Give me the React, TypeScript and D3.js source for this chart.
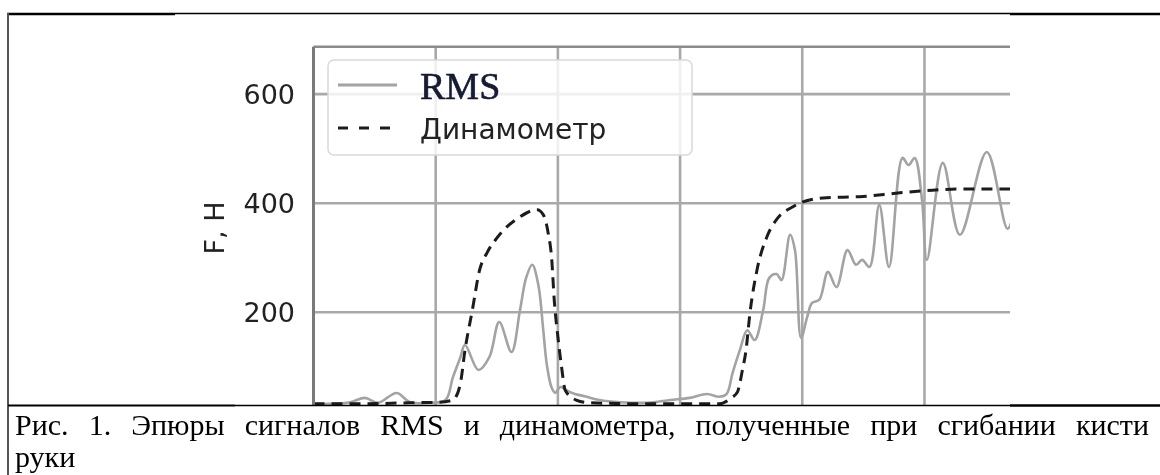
import React, { useEffect, useRef } from 'react'
import * as d3 from 'd3'

// time in grid units (one vertical grid line per unit), force in N
const rmsTime = [
  0.0, 0.13, 0.3, 0.42, 0.53, 0.68, 0.79, 0.95, 1.08, 1.14, 1.2, 1.24, 1.35, 1.44, 1.52, 1.62,
  1.69, 1.74, 1.79, 1.84, 1.88, 1.91, 1.95, 1.98, 2.02, 2.07, 2.14, 2.22, 2.34, 2.51, 2.73, 2.92,
  3.08, 3.22, 3.32, 3.38, 3.43, 3.49, 3.55, 3.61, 3.68, 3.73, 3.79, 3.83, 3.9, 3.94, 3.99, 4.04,
  4.08, 4.14, 4.21, 4.28, 4.37, 4.44, 4.49, 4.55, 4.63, 4.71, 4.82, 4.87, 4.92, 4.98, 5.02, 5.15,
  5.29, 5.51, 5.68, 5.74,
]
const rmsForce = [
  32, 32, 35, 43, 34, 52, 35, 34, 39, 80, 116, 140, 94, 118, 182, 127,
  204, 263, 287, 250, 168, 103, 61, 52, 63, 57, 50, 46, 39, 35, 34, 39,
  43, 50, 45, 50, 89, 131, 167, 149, 204, 263, 270, 259, 342, 314, 153, 191,
  217, 223, 274, 246, 314, 287, 296, 283, 397, 283, 483, 470, 483, 406, 296, 474,
  342, 494, 353, 387,
]

const dynTime = [
  0.0, 0.38, 0.79, 1.03, 1.14, 1.2, 1.24, 1.3, 1.36, 1.42, 1.5, 1.69, 1.83, 1.88, 1.92, 1.95,
  1.97, 2.0, 2.03, 2.06, 2.15, 2.26, 2.75, 3.32, 3.42, 3.47, 3.51, 3.54, 3.57, 3.63, 3.71, 3.8,
  3.92, 4.0, 4.2, 4.47, 4.8, 5.02, 5.29, 5.75,
]
const dynForce = [
  32, 32, 34, 35, 39, 67, 131, 204, 278, 309, 336, 375, 388, 379, 346, 296,
  223, 155, 100, 57, 39, 34, 32, 32, 43, 54, 94, 131, 195, 278, 338, 373,
  393, 402, 410, 412, 419, 423, 426, 426,
]

const xTicks = [1, 2, 3, 4, 5]
const yTicks = [200, 400, 600]
const legendLabels = ['RMS', 'Динамометр']
const yLabel = 'F, H'
const captionLine1 = 'Рис. 1. Эпюры сигналов RMS и динамометра, полученные при сгибании кисти'
const captionLine2 = 'руки'

const W = 1160
const H = 475
const plotLeft = 313.5
const plotRight = 1010
const plotTop = 46.7
const plotBottom = 405

export default function App() {
  const captionRef = useRef<SVGTextElement>(null)

  // justify first caption line like the document text
  useEffect(() => {
    const t = captionRef.current
    if (!t) return
    t.setAttribute('word-spacing', '0')
    const w = t.getComputedTextLength()
    const spaces = captionLine1.split(' ').length - 1
    t.setAttribute('word-spacing', String(Math.max(0, (1149 - 15 - w) / spaces)))
  }, [])

  const x = d3.scaleLinear().domain([0, 5.7]).range([plotLeft, plotRight])
  const y = d3.scaleLinear().domain([0, 687]).range([421.3, plotTop])

  const rmsLine = d3.line<number>()
    .x((_, i) => x(rmsTime[i]))
    .y(d => y(d))
    .curve(d3.curveCatmullRom.alpha(0.5))
  const dynLine = d3.line<number>()
    .x((_, i) => x(dynTime[i]))
    .y(d => y(d))
    .curve(d3.curveMonotoneX)

  const sans = 'DejaVu Sans, sans-serif'
  const serif = 'Liberation Serif, Times New Roman, serif'

  return (
    <div style={{ position: 'absolute', left: 0, top: 0 }}>
      <svg width={W} height={H} style={{ display: 'block', background: '#fff' }}>
        <defs>
          <clipPath id="plot-area">
            <rect x={plotLeft} y={plotTop} width={plotRight - plotLeft} height={plotBottom - plotTop} />
          </clipPath>
          <filter id="soft" x="-5%" y="-5%" width="110%" height="110%">
            <feGaussianBlur stdDeviation="0.6" />
          </filter>
        </defs>

        <g filter="url(#soft)">
          {/* grid */}
          <g clipPath="url(#plot-area)" stroke="#a9a9a9" strokeWidth={2.6}>
            {xTicks.map(t => (
              <line key={'gx' + t} x1={x(t)} x2={x(t)} y1={plotTop} y2={plotBottom} />
            ))}
            {yTicks.map(t => (
              <line key={'gy' + t} x1={plotLeft} x2={plotRight} y1={y(t)} y2={y(t)} />
            ))}
          </g>

          {/* curves */}
          <g clipPath="url(#plot-area)" fill="none" strokeLinejoin="round">
            <path d={rmsLine(rmsForce) || ''} stroke="#a3a3a3" strokeWidth={2.6} />
            <path d={dynLine(dynForce) || ''} stroke="#1c1c1c" strokeWidth={3} strokeDasharray="11,7" />
          </g>

          {/* spines */}
          <line x1={plotLeft} x2={plotRight} y1={plotTop} y2={plotTop} stroke="#8c8c8c" strokeWidth={2.4} />
          <line x1={plotLeft} x2={plotLeft} y1={plotTop} y2={plotBottom} stroke="#7a7a7a" strokeWidth={3} />

          {/* legend */}
          <rect x={328} y={60} width={364} height={95} rx={6} fill="#fff" fillOpacity={0.82}
            stroke="#d9d9d9" strokeWidth={1.5} />
          <line x1={338} x2={397} y1={85} y2={85} stroke="#a3a3a3" strokeWidth={2.8} />
          <line x1={338} x2={397} y1={128} y2={128} stroke="#1c1c1c" strokeWidth={3} strokeDasharray="10,11" />
          <text x={420} y={99} fontFamily={serif} fontSize={38} fill="#141a33"
            stroke="#141a33" strokeWidth={0.6}>{legendLabels[0]}</text>
          <text x={420} y={139} fontFamily={sans} fontSize={28} fill="#222">{legendLabels[1]}</text>

          {/* y tick labels */}
          {yTicks.map(t => (
            <text key={'ty' + t} x={295} y={y(t)} dy="0.36em" textAnchor="end"
              fontFamily={sans} fontSize={27} fill="#222">{t}</text>
          ))}
          <text transform={`translate(224,${228}) rotate(-90)`} textAnchor="middle"
            fontFamily={sans} fontSize={27} fill="#222">{yLabel}</text>
        </g>

        {/* document table borders */}
        <g stroke="#000">
          <line x1={7} x2={175} y1={14} y2={14} strokeWidth={2.6} />
          <line x1={175} x2={1010} y1={13.5} y2={13.5} strokeWidth={1.4} />
          <line x1={1010} x2={W} y1={14} y2={14} strokeWidth={2.6} />
          <line x1={8} x2={8} y1={13} y2={H} stroke="#555" strokeWidth={2} />
          <line x1={8} x2={235} y1={405.5} y2={405.5} strokeWidth={2.2} />
          <line x1={235} x2={1010} y1={405.5} y2={405.5} strokeWidth={1.4} />
          <line x1={1010} x2={W} y1={405.5} y2={405.5} strokeWidth={2.6} />
        </g>

        {/* caption */}
        <text ref={captionRef} x={15} y={435} fontFamily={serif} fontSize={30} fill="#000">{captionLine1}</text>
        <text x={15} y={467} fontFamily={serif} fontSize={30} fill="#000">{captionLine2}</text>
      </svg>
    </div>
  )
}
